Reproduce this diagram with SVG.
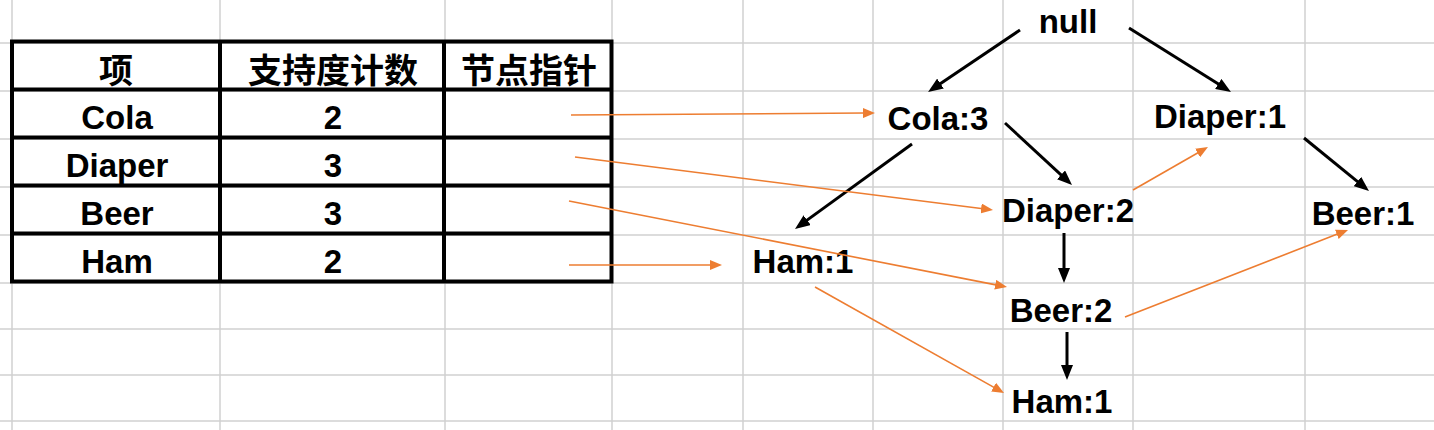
<svg xmlns="http://www.w3.org/2000/svg" width="1434" height="430" viewBox="0 0 1434 430">
<style>
.grid line{stroke:#D0D0D0;stroke-width:1.5}
.tb{fill:none;stroke:#000;stroke-width:4}
.t{font-family:"Liberation Sans","Noto Sans CJK SC",sans-serif;font-weight:bold;font-size:33px;fill:#000;text-anchor:middle}
.cjk{font-family:"Noto Sans CJK SC",sans-serif;font-weight:bold;font-size:34px;fill:#000;text-anchor:middle}
.bk{stroke:#000;stroke-width:3;fill:none;marker-end:url(#ab)}
.or{stroke:#ED7D31;stroke-width:1.6;fill:none;marker-end:url(#ao)}
</style>
<defs>
<marker id="ab" viewBox="0 0 15 12" markerWidth="15" markerHeight="12" refX="3" refY="6" orient="auto" markerUnits="userSpaceOnUse"><path d="M0,0 L15,6 L0,12 z" fill="#000"/></marker>
<marker id="ao" viewBox="0 0 12 10" markerWidth="12" markerHeight="10" refX="2" refY="5" orient="auto" markerUnits="userSpaceOnUse"><path d="M0,0 L12,5 L0,10 z" fill="#ED7D31"/></marker>
</defs>
<rect width="1434" height="430" fill="#fff"/>
<g class="grid">
<line x1="12" y1="0" x2="12" y2="430"/><line x1="220" y1="0" x2="220" y2="430"/><line x1="445" y1="0" x2="445" y2="430"/><line x1="612" y1="0" x2="612" y2="430"/><line x1="743" y1="0" x2="743" y2="430"/><line x1="873" y1="0" x2="873" y2="430"/><line x1="1003" y1="0" x2="1003" y2="430"/><line x1="1133" y1="0" x2="1133" y2="430"/><line x1="1305" y1="0" x2="1305" y2="430"/>
<line x1="0" y1="43" x2="1434" y2="43"/><line x1="0" y1="91" x2="1434" y2="91"/><line x1="0" y1="139" x2="1434" y2="139"/><line x1="0" y1="187" x2="1434" y2="187"/><line x1="0" y1="235" x2="1434" y2="235"/><line x1="0" y1="283" x2="1434" y2="283"/><line x1="0" y1="329" x2="1434" y2="329"/><line x1="0" y1="375" x2="1434" y2="375"/><line x1="0" y1="421" x2="1434" y2="421"/>
</g>
<g id="table">
<rect class="tb" x="12" y="41.5" width="599.5" height="240"/>
<path class="tb" d="M220,41.5V281.5M444,41.5V281.5M12,89.5H611.5M12,137.5H611.5M12,185.5H611.5M12,233.5H611.5"/>
<text class="cjk" x="116" y="83">项</text>
<text class="cjk" x="333" y="83">支持度计数</text>
<text class="cjk" x="529" y="83">节点指针</text>
<text class="t" x="117" y="129">Cola</text><text class="t" x="333" y="129">2</text>
<text class="t" x="117" y="177">Diaper</text><text class="t" x="333" y="177">3</text>
<text class="t" x="117" y="225">Beer</text><text class="t" x="333" y="225">3</text>
<text class="t" x="117" y="273">Ham</text><text class="t" x="333" y="273">2</text>
</g>
<g id="n-null"><text class="t" x="1068" y="33">null</text></g>
<g id="n-cola3"><text class="t" x="938" y="130">Cola:3</text></g>
<g id="n-diaper1"><text class="t" x="1220" y="128">Diaper:1</text></g>
<g id="n-ham1a"><text class="t" x="803" y="273">Ham:1</text></g>
<g id="n-diaper2"><text class="t" x="1068" y="222">Diaper:2</text></g>
<g id="n-beer1"><text class="t" x="1363" y="225">Beer:1</text></g>
<g id="n-beer2"><text class="t" x="1061" y="322">Beer:2</text></g>
<g id="n-ham1b"><text class="t" x="1062" y="413">Ham:1</text></g>
<g id="connectors">
<line class="bk" x1="1020" y1="30" x2="938" y2="85.3"/>
<line class="bk" x1="1129" y1="28" x2="1220.8" y2="85.6"/>
<line class="bk" x1="912" y1="144" x2="804.7" y2="221.9"/>
<line class="bk" x1="1005" y1="123" x2="1063.2" y2="176.9"/>
<line class="bk" x1="1304" y1="138" x2="1359.7" y2="183.4"/>
<line class="bk" x1="1064" y1="233" x2="1064" y2="271"/>
<line class="bk" x1="1067" y1="332" x2="1067" y2="368"/>
<line class="or" x1="571" y1="115" x2="865" y2="113.07"/>
<line class="or" x1="575" y1="157" x2="983.1" y2="208.7"/>
<line class="or" x1="569" y1="201" x2="997.2" y2="285.1"/>
<line class="or" x1="569" y1="265" x2="712" y2="265"/>
<line class="or" x1="1133" y1="190" x2="1199.3" y2="152"/>
<line class="or" x1="815" y1="287" x2="995.3" y2="388.1"/>
<line class="or" x1="1125" y1="317" x2="1338.7" y2="233.6"/>
</g>
</svg>
